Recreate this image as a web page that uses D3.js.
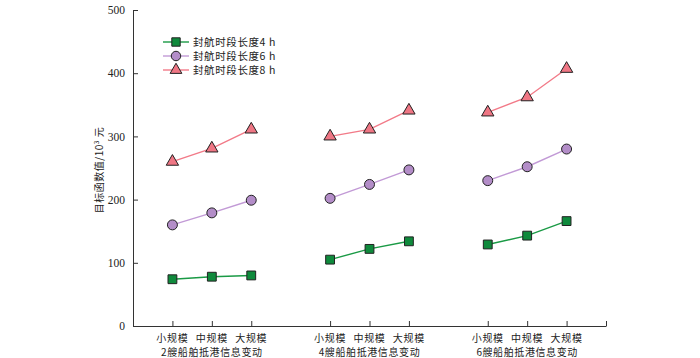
<!DOCTYPE html>
<html><head><meta charset="utf-8">
<script src="https://cdn.jsdelivr.net/npm/d3@7"></script>
<style>
body{margin:0;background:#fff;}
text{font-family:"Liberation Serif","Noto Sans CJK SC",serif;}
</style></head>
<body><svg id="c" width="700" height="358"></svg>
<script>
const scales = ["小规模","中规模","大规模"];
const groups = ["2艘船舶抵港信息变动","4艘船舶抵港信息变动","6艘船舶抵港信息变动"];
const seriesNames = ["封航时段长度4 h","封航时段长度6 h","封航时段长度8 h"];
const values4h = [[74,78,80],[105,122,134],[129,143,166]];
const values6h = [[160,179,199],[202,224,247],[230,252,280]];
const values8h = [[260,281,311],[300,311,341],[338,362,407]];
const yTicks = [0,100,200,300,400,500];

const svg = d3.select("#c");
const x0 = 133, x1 = 606, yTop = 10, yBot = 326;
const x = d3.scaleLinear().domain([0,12]).range([x0,x1]);
const y = d3.scaleLinear().domain([0,500]).range([yBot,yTop]);
const slot = (g,i)=> g*4 + i + 1;
const cjk = "Noto Sans CJK SC";

const series = [
  {name:seriesNames[0], data:values4h, line:"#1a9a45", fill:"#0f8a3c", shape:d3.symbolSquare, size:78},
  {name:seriesNames[1], data:values6h, line:"#c29ad6", fill:"#b38dc8", shape:d3.symbolCircle, size:78},
  {name:seriesNames[2], data:values8h, line:"#f27a88", fill:"#ef7684", shape:d3.symbolTriangle, size:66}
];

// axes
const axC = "#333";
const yAxis = d3.axisLeft(y).tickValues(yTicks).tickSize(-5).tickPadding(8).tickSizeOuter(0);
const gy = svg.append("g").attr("transform",`translate(${x0},0)`).call(yAxis);
gy.select(".domain").attr("stroke",axC);
gy.selectAll(".tick line").attr("stroke",axC);
gy.selectAll("text").attr("fill","#222").style("font-size","11.5px").style("font-family","Liberation Serif");

const xTickVals = [1,2,3,5,6,7,9,10,11,12];
const xAxis = d3.axisBottom(x).tickValues(xTickVals).tickSize(-5).tickFormat("").tickSizeOuter(0);
const gx = svg.append("g").attr("transform",`translate(0,${yBot})`).call(xAxis);
gx.select(".domain").attr("stroke",axC);
gx.selectAll(".tick line").attr("stroke",axC);

// category labels
groups.forEach((gName,g)=>{
  scales.forEach((s,i)=>{
    svg.append("text").attr("x",x(slot(g,i))).attr("y",342).attr("text-anchor","middle")
      .style("font-family",cjk).style("font-size","10px").style("letter-spacing","0.7px").attr("fill","#222").text(s);
  });
  svg.append("text").attr("x",x(slot(g,1))).attr("y",355.5).attr("text-anchor","middle")
    .style("font-family",cjk).style("font-size","10px").style("letter-spacing","0.6px").attr("fill","#222").text(gName);
});

// y label
svg.append("text").attr("transform",`translate(103,170) rotate(-90)`).attr("text-anchor","middle")
  .style("font-family",cjk).style("font-size","10px").style("letter-spacing","0.5px").attr("fill","#222")
  .html('目标函数值/10<tspan dy="-4" font-size="6.5px">3</tspan><tspan dy="4"> 元</tspan>');

// series
series.forEach(s=>{
  s.data.forEach((arr,g)=>{
    const pts = arr.map((v,i)=>[x(slot(g,i)), y(v)]);
    svg.append("path").attr("d",d3.line()(pts)).attr("fill","none").attr("stroke",s.line).attr("stroke-width",1.4);
    pts.forEach(p=>{
      svg.append("path").attr("d",d3.symbol(s.shape,s.size)()).attr("transform",`translate(${p[0]},${p[1]})`)
        .attr("fill",s.fill).attr("stroke","#222").attr("stroke-width",1);
    });
  });
});

// legend
series.forEach((s,k)=>{
  const ly = 42 + k*14;
  svg.append("line").attr("x1",163).attr("x2",189).attr("y1",ly).attr("y2",ly).attr("stroke",s.line).attr("stroke-width",1.4);
  svg.append("path").attr("d",d3.symbol(s.shape,s.size*0.9)()).attr("transform",`translate(176,${ly})`)
    .attr("fill",s.fill).attr("stroke","#222").attr("stroke-width",1);
  svg.append("text").attr("x",193).attr("y",ly+4).style("font-family",cjk).style("font-size","10.5px").style("letter-spacing","0.6px").attr("fill","#222").text(s.name);
});
</script></body></html>
